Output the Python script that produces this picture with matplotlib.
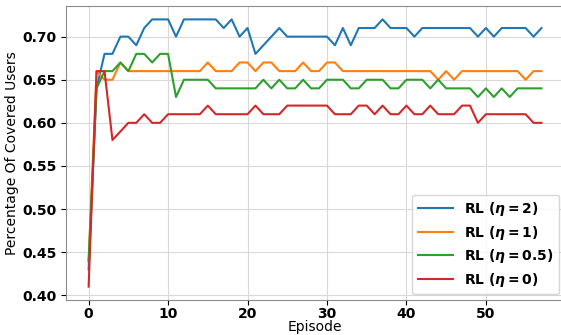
import matplotlib
matplotlib.use("Agg")
import matplotlib.pyplot as plt

# Coverage per episode for each eta setting
episodes = list(range(58))

eta_2 = [0.43, 0.64, 0.68, 0.68, 0.70, 0.70, 0.69, 0.71, 0.72, 0.72,
         0.72, 0.70, 0.72, 0.72, 0.72, 0.72, 0.72, 0.71, 0.72, 0.70,
         0.71, 0.68, 0.69, 0.70, 0.71, 0.70, 0.70, 0.70, 0.70, 0.70,
         0.70, 0.69, 0.71, 0.69, 0.71, 0.71, 0.71, 0.72, 0.71, 0.71,
         0.71, 0.70, 0.71, 0.71, 0.71, 0.71, 0.71, 0.71, 0.71, 0.70,
         0.71, 0.70, 0.71, 0.71, 0.71, 0.71, 0.70, 0.71]

eta_1 = [0.44, 0.66, 0.65, 0.65, 0.67, 0.66, 0.66, 0.66, 0.66, 0.66,
         0.66, 0.66, 0.66, 0.66, 0.66, 0.67, 0.66, 0.66, 0.66, 0.67,
         0.67, 0.66, 0.67, 0.67, 0.66, 0.66, 0.66, 0.67, 0.66, 0.66,
         0.67, 0.67, 0.66, 0.66, 0.66, 0.66, 0.66, 0.66, 0.66, 0.66,
         0.66, 0.66, 0.66, 0.66, 0.65, 0.66, 0.65, 0.66, 0.66, 0.66,
         0.66, 0.66, 0.66, 0.66, 0.66, 0.65, 0.66, 0.66]

eta_05 = [0.44, 0.64, 0.66, 0.66, 0.67, 0.66, 0.68, 0.68, 0.67, 0.68,
          0.68, 0.63, 0.65, 0.65, 0.65, 0.65, 0.64, 0.64, 0.64, 0.64,
          0.64, 0.64, 0.65, 0.64, 0.65, 0.64, 0.64, 0.65, 0.64, 0.64,
          0.65, 0.65, 0.65, 0.64, 0.64, 0.65, 0.65, 0.65, 0.64, 0.64,
          0.65, 0.65, 0.65, 0.64, 0.65, 0.64, 0.64, 0.64, 0.64, 0.63,
          0.64, 0.63, 0.64, 0.63, 0.64, 0.64, 0.64, 0.64]

eta_0 = [0.41, 0.66, 0.66, 0.58, 0.59, 0.60, 0.60, 0.61, 0.60, 0.60,
         0.61, 0.61, 0.61, 0.61, 0.61, 0.62, 0.61, 0.61, 0.61, 0.61,
         0.61, 0.62, 0.61, 0.61, 0.61, 0.62, 0.62, 0.62, 0.62, 0.62,
         0.62, 0.61, 0.61, 0.61, 0.62, 0.62, 0.61, 0.62, 0.61, 0.61,
         0.62, 0.61, 0.61, 0.62, 0.61, 0.61, 0.61, 0.62, 0.62, 0.60,
         0.61, 0.61, 0.61, 0.61, 0.61, 0.61, 0.60, 0.60]

series = [
    (eta_2, r"RL ($\boldsymbol{\eta = 2}$)"),
    (eta_1, r"RL ($\boldsymbol{\eta = 1}$)"),
    (eta_05, r"RL ($\boldsymbol{\eta = 0.5}$)"),
    (eta_0, r"RL ($\boldsymbol{\eta = 0}$)"),
]

fig = plt.figure(figsize=(5.61, 3.35), dpi=100)
ax = fig.add_axes([0.1176, 0.1045, 0.888, 0.8775])

for values, label in series:
    ax.plot(episodes, values, linewidth=1.5, label=label)

ax.set_xlabel("Episode", fontsize=10, labelpad=-0.5)
ax.set_ylabel("Percentage Of Covered Users", fontsize=10, labelpad=2)
ax.set_yticks([0.40, 0.45, 0.50, 0.55, 0.60, 0.65, 0.70])
ax.set_xticks([0, 10, 20, 30, 40, 50])
ax.tick_params(axis="x", pad=1.5)
for lbl in ax.get_xticklabels() + ax.get_yticklabels():
    lbl.set_fontweight("bold")
    lbl.set_fontsize(10)

ax.grid(True, color="#d9d9d9", linewidth=0.8)
ax.set_axisbelow(True)
for spine in ax.spines.values():
    spine.set_color("#8c8c8c")

leg = ax.legend(loc="lower right", prop={"weight": "bold", "size": 10},
                handlelength=2.5, labelspacing=0.4, borderaxespad=0.4)

fig.savefig("out.png", dpi=100)
